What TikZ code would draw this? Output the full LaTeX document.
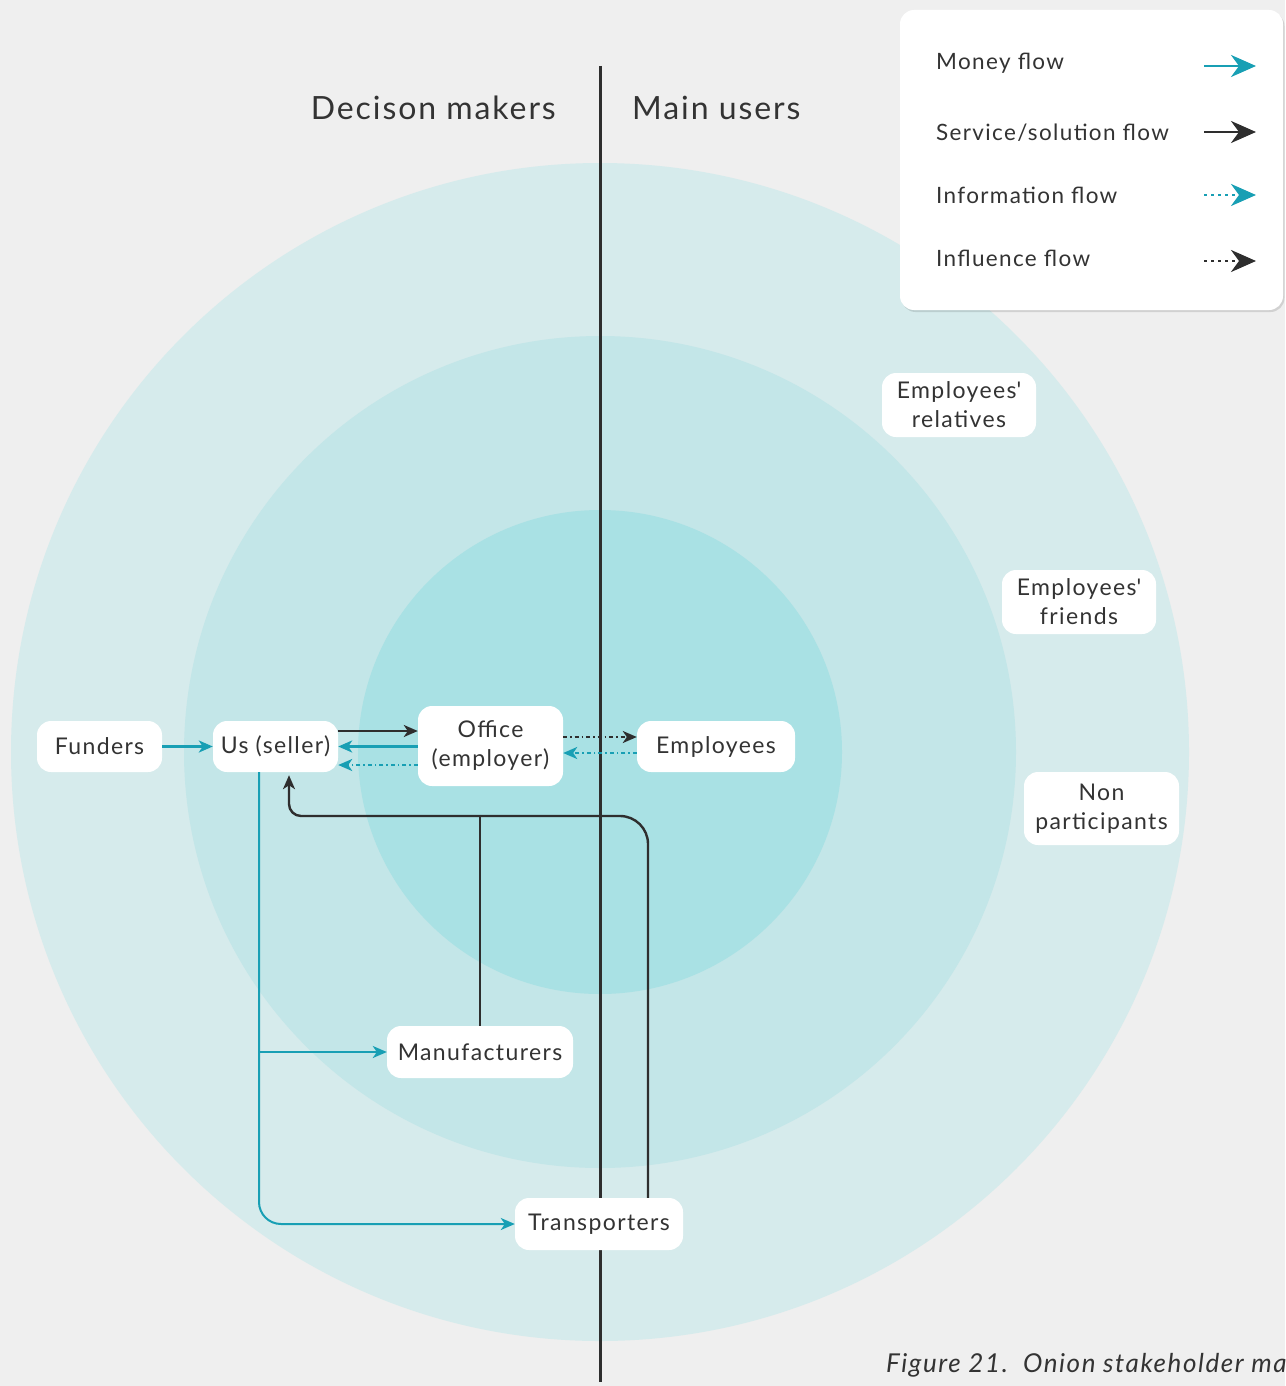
\documentclass[tikz,border=0pt]{standalone}
\usepackage{fontspec}
\setmainfont{Lato}[LetterSpace=6]
\newfontfamily\apfont{Lato}[LetterSpace=6]
\usetikzlibrary{arrows.meta,shadows,calc}
\definecolor{bg}{HTML}{EFEFEF}
\definecolor{ringA}{HTML}{D6EBEC}
\definecolor{ringB}{HTML}{C3E6E8}
\definecolor{ringC}{HTML}{A9E1E4}
\definecolor{tealc}{HTML}{189FB4}
\definecolor{ink}{HTML}{2E2E2E}
\definecolor{txt}{HTML}{333333}
\newcommand{\sq}{{\apfont'}}
\begin{document}
\begin{tikzpicture}[x=1pt,y=-1pt,
  box/.style={fill=white, rounded corners=14pt, text=txt, font=\fontsize{23}{29}\selectfont, align=center, inner sep=0pt},
  lab/.style={text=txt, font=\fontsize{22.5}{29}\selectfont, inner sep=0pt},
  tip/.style={-{Stealth[length=14pt,width=12pt,inset=4pt]}},
  bigtip/.style={-{Stealth[length=25pt,width=22pt,inset=8pt]}},
  money/.style={draw=tealc, line width=2pt, tip},
  moneythick/.style={draw=tealc, line width=3pt, tip},
  svc/.style={draw=ink, line width=2.4pt, tip},
  svcline/.style={draw=ink, line width=2.4pt},
  info/.style={draw=tealc, line width=2.2pt, dash pattern=on 4pt off 3pt on 1.5pt off 3pt, tip},
  infl/.style={draw=ink, line width=2.2pt, dash pattern=on 4pt off 3pt on 1.5pt off 3pt, tip},
]
\useasboundingbox (0,0) rectangle (1285,1386);
\clip (0,0) rectangle (1285,1386);
\fill[bg] (0,0) rectangle (1285,1386);
% onion rings
\fill[ringA] (600,752) circle[radius=589];
\fill[ringB] (600,752) circle[radius=416];
\fill[ringC] (600,752) circle[radius=242];
% divider
\coordinate (divtop) at (600,66);
\coordinate (divbot) at (600,1382);
\draw[ink, line width=3pt] (divtop) -- (divbot);
% headings
\node[text=txt, font=\fontsize{32}{36}\selectfont, anchor=east, inner sep=0pt] (hdm) at (556,108) {Decison makers};
\node[text=txt, font=\fontsize{32}{36}\selectfont, anchor=west, inner sep=0pt] (hmu) at (632,108) {Main users};
% legend
\node[fill=white, rounded corners=14pt, minimum width=383pt, minimum height=300pt,
  drop shadow={shadow xshift=1.5pt, shadow yshift=-2pt, opacity=0.12, fill=black}] (legend) at (1091.5,160) {};
\node[lab, anchor=west] (lmoney) at (936,63) {Money flow};
\node[lab, anchor=west] (lsvc) at (936,133) {Service/solution flow};
\node[lab, anchor=west] (linfo) at (936,195) {Information flow};
\node[lab, anchor=west] (linfl) at (936,258) {Influence flow};
\coordinate (m1) at (1204,66); \coordinate (m2) at (1256,66);
\coordinate (s1) at (1204,132); \coordinate (s2) at (1256,132);
\coordinate (i1) at (1204,195); \coordinate (i2) at (1256,195);
\coordinate (f1) at (1204,261); \coordinate (f2) at (1256,261);
\draw[draw=tealc, line width=2.8pt, bigtip] (m1) -- (m2);
\draw[draw=ink, line width=2.8pt, bigtip] (s1) -- (s2);
\draw[draw=tealc, line width=2.8pt, dash pattern=on 3pt off 4pt, bigtip] (i1) -- (i2);
\draw[draw=ink, line width=2.8pt, dash pattern=on 3pt off 4pt, bigtip] (f1) -- (f2);
% nodes
\node[box, minimum width=125pt, minimum height=51pt] (funders) at (99.5,746.5) {Funders};
\node[box, minimum width=125pt, minimum height=51pt] (us) at (275.5,746.5) {Us (seller)};
\node[box, minimum width=145pt, minimum height=80pt] (office) at (490.5,746) {Office\\(employer)};
\node[box, minimum width=158pt, minimum height=51pt] (emp) at (716,746.5) {Employees};
\node[box, minimum width=154pt, minimum height=64pt] (rel) at (959,405) {Employees\sq\\relatives};
\node[box, minimum width=154pt, minimum height=64pt] (fri) at (1079,602) {Employees\sq\\friends};
\node[box, minimum width=155pt, minimum height=73pt] (non) at (1101.5,808.5) {Non\\participants};
\node[box, minimum width=186pt, minimum height=52pt] (manu) at (480,1052) {Manufacturers};
\node[box, minimum width=168pt, minimum height=52pt] (trans) at (599,1224) {Transporters};
% connectors
\draw[moneythick] (funders) -- (us);
\draw[svc] ([yshift=15.5pt]us.east) -- ([yshift=15pt]office.west);
\draw[moneythick] ([yshift=-0.5pt]office.west) -- (us.east);
\draw[info] ([yshift=-19pt]office.west) -- ([yshift=-18.5pt]us.east);
\draw[infl] ([yshift=9pt]office.east) -- ([yshift=9.5pt]emp.west);
\draw[info] ([yshift=-6.5pt]emp.west) -- ([yshift=-7pt]office.east);
\draw[money] ([xshift=-16.5pt]us.south) |- (manu.west);
\draw[money, rounded corners=22pt] ([xshift=-16.5pt]us.south) |- (trans.west);
\coordinate (j) at (480,816);
\draw[svcline] (manu.north) -- (j);
\draw[svcline, rounded corners=28pt] ([xshift=49pt]trans.north) |- (j);
\draw[svc, rounded corners=12pt] (j) -| ([xshift=13.5pt,yshift=-3pt]us.south);
% caption (cut off at the right edge, as in the reference)
\node[text=txt, font=\fontsize{26}{30}\selectfont\itshape, anchor=west, inner sep=0pt] (cap) at (886,1365) {Figure 21.\ \ Onion stakeholder map};
\end{tikzpicture}
\end{document}
